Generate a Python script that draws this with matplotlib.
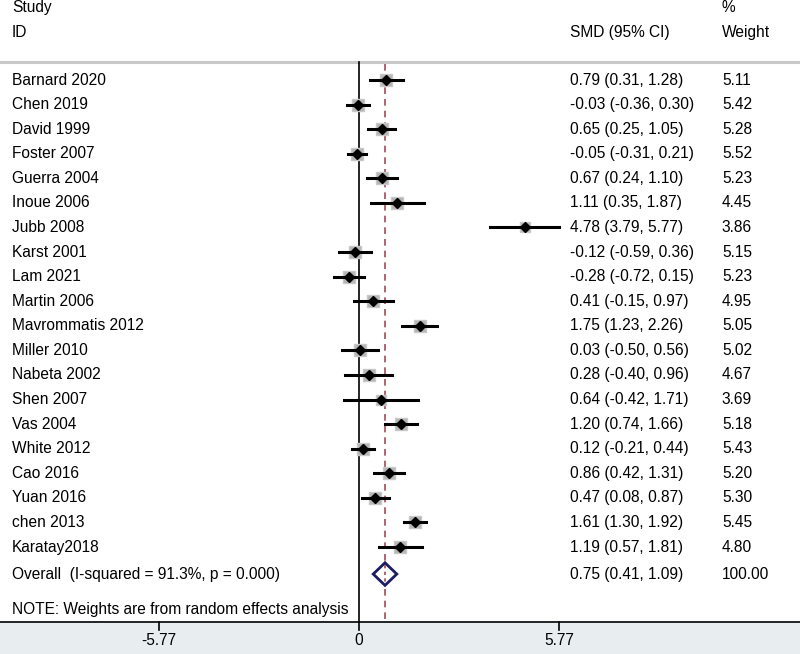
import numpy as np
import matplotlib
matplotlib.use("Agg")
import matplotlib.pyplot as plt

plt.rcParams['font.family'] = ['Liberation Sans', 'DejaVu Sans']

studies = ['Barnard 2020', 'Chen 2019', 'David 1999', 'Foster 2007', 'Guerra 2004',
           'Inoue 2006', 'Jubb 2008', 'Karst 2001', 'Lam 2021', 'Martin 2006',
           'Mavrommatis 2012', 'Miller 2010', 'Nabeta 2002', 'Shen 2007', 'Vas 2004',
           'White 2012', 'Cao 2016', 'Yuan 2016', 'chen 2013', 'Karatay2018']
smd = [0.79, -0.03, 0.65, -0.05, 0.67, 1.11, 4.78, -0.12, -0.28, 0.41,
       1.75, 0.03, 0.28, 0.64, 1.20, 0.12, 0.86, 0.47, 1.61, 1.19]
ci_lo = [0.31, -0.36, 0.25, -0.31, 0.24, 0.35, 3.79, -0.59, -0.72, -0.15,
         1.23, -0.50, -0.40, -0.42, 0.74, -0.21, 0.42, 0.08, 1.30, 0.57]
ci_hi = [1.28, 0.30, 1.05, 0.21, 1.10, 1.87, 5.77, 0.36, 0.15, 0.97,
         2.26, 0.56, 0.96, 1.71, 1.66, 0.44, 1.31, 0.87, 1.92, 1.81]
weight = [5.11, 5.42, 5.28, 5.52, 5.23, 4.45, 3.86, 5.15, 5.23, 4.95,
          5.05, 5.02, 4.67, 3.69, 5.18, 5.43, 5.20, 5.30, 5.45, 4.80]
overall = 0.75
overall_lo = 0.41
overall_hi = 1.09
overall_label = 'Overall  (I-squared = 91.3%, p = 0.000)'
note = 'NOTE: Weights are from random effects analysis'
xticks = [-5.77, 0, 5.77]

fs = 11.2
fig = plt.figure(figsize=(8, 6.54), dpi=100)
ax = fig.add_axes([0, 0, 1, 1])
ax.set_xlim(-10.358, 12.723)
ax.set_ylim(23.352, -3.255)
ax.axis('off')

n = len(studies)
y_over = n + 0.1
y_note = n + 1.56
y_axis = 22.05
y_top = -0.732
x_study = -10.01
x_est = 6.09
x_wt = 10.47

# bottom band
ax.axhspan(y_axis, 23.352, color='#e8eef0', zorder=0)
ax.axhline(y_axis, color='black', lw=1.2)
ax.axhline(y_top, color='#c8c8c8', lw=2.2)

# reference lines
ax.plot([0, 0], [y_top, y_axis], color='black', lw=1.2)
ax.plot([overall, overall], [y_top + 0.1, y_axis], color='#a34a55', lw=1.2,
        ls=(0, (4, 3)))

# studies
for i in range(n):
    ax.plot([ci_lo[i], ci_hi[i]], [i, i], color='black', lw=2.2, zorder=3)
    ax.plot(smd[i], i, marker='s', ms=3.8 * np.sqrt(weight[i]), color='#b4b4b4',
            mec='#c8c8c8', mew=1, zorder=2)
    ax.plot(smd[i], i, marker='D', ms=4.6, color='black', zorder=4)
    ax.text(x_study, i, studies[i], fontsize=fs, va='center', ha='left')
    ax.text(x_est, i, '%.2f (%.2f, %.2f)' % (smd[i], ci_lo[i], ci_hi[i]),
            fontsize=fs, va='center', ha='left')
    ax.text(x_wt, i, '%.2f' % weight[i], fontsize=fs, va='center', ha='left')

# overall diamond
dh = 0.46
ax.fill([overall_lo, overall, overall_hi, overall, overall_lo],
        [y_over, y_over - dh, y_over, y_over + dh, y_over],
        facecolor='white', edgecolor='#1c1c62', lw=2, zorder=4)
ax.plot([overall, overall], [y_over - dh + 0.1, y_over + dh - 0.1], color='#a34a55',
        lw=1.2, ls=(0, (2, 2)), zorder=5)
ax.text(x_study, y_over, overall_label, fontsize=fs, va='center', ha='left')
ax.text(x_est, y_over, '%.2f (%.2f, %.2f)' % (overall, overall_lo, overall_hi),
        fontsize=fs, va='center', ha='left')
ax.text(x_wt, y_over, '100.00', fontsize=fs, va='center', ha='left')
ax.text(x_study, y_note, note, fontsize=fs, va='center', ha='left')

# headers
ax.text(x_study, -2.93, 'Study', fontsize=fs, va='center', ha='left')
ax.text(x_study, -1.953, 'ID', fontsize=fs, va='center', ha='left')
ax.text(x_est, -1.953, 'SMD (95% CI)', fontsize=fs, va='center', ha='left')
ax.text(x_wt, -2.93, '%', fontsize=fs, va='center', ha='left')
ax.text(x_wt, -1.953, 'Weight', fontsize=fs, va='center', ha='left')

# x axis ticks
for t in xticks:
    ax.plot([t, t], [y_axis, y_axis + 0.33], color='black', lw=1.2)
    ax.text(t, y_axis + 0.75, ('%.2f' % t) if t != 0 else '0', fontsize=fs,
            va='center', ha='center')

fig.savefig('out.png', dpi=100)
